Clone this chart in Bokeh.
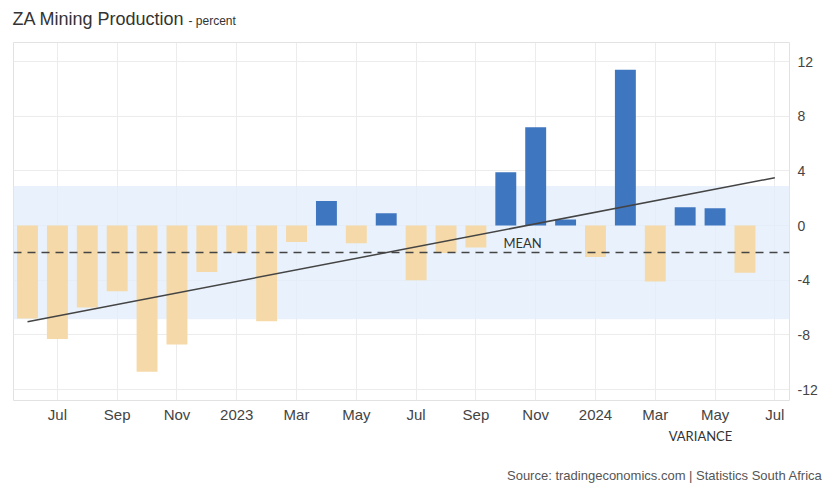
import numpy as np
from bokeh.plotting import figure
from bokeh.layouts import column
from bokeh.models import FixedTicker, BoxAnnotation, Span, Label, ColumnDataSource
from bokeh.core.properties import value
from bokeh.embed import file_html
from bokeh.resources import INLINE

# ---- data ----
months = ["2022-06", "2022-07", "2022-08", "2022-09", "2022-10", "2022-11", "2022-12",
          "2023-01", "2023-02", "2023-03", "2023-04", "2023-05", "2023-06", "2023-07",
          "2023-08", "2023-09", "2023-10", "2023-11", "2023-12", "2024-01", "2024-02",
          "2024-03", "2024-04", "2024-05", "2024-06"]
values = [-6.8, -8.3, -6.0, -4.8, -10.7, -8.7, -3.4, -2.0, -7.0, -1.2, 1.8, -1.3, 0.9,
          -4.0, -2.0, -1.6, 3.9, 7.2, 0.44, -2.3, 11.4, -4.1, 1.35, 1.27, -3.45]
tick_idx = [1, 3, 5, 7, 9, 11, 13, 15, 17, 19, 21, 23, 25]
tick_labels = ["Jul", "Sep", "Nov", "2023", "Mar", "May", "Jul", "Sep", "Nov", "2024",
               "Mar", "May", "Jul"]
y_ticks = [-12, -8, -4, 0, 4, 8, 12]
y_tick_labels = ["-12", "-8", "-4", "0", "4", "8", "12"]

POS = "#3f76c0"
NEG = "#f5d9a8"

idx = list(range(len(values)))
colors = [POS if v >= 0 else NEG for v in values]
src = ColumnDataSource(dict(x=idx, top=values, color=colors, month=months))

mean = float(np.mean(values))
std = float(np.std(values))
slope, intercept = np.polyfit(idx, values, 1)
trend_x = [0, len(values)]
trend_y = [intercept + slope * t for t in trend_x]

FONT = "Liberation Sans"
W = 827


def strip(h):
    f = figure(width=W, height=h, output_backend="svg", toolbar_location=None,
               x_range=(0, W), y_range=(h, 0), min_border=0,
               x_axis_type=None, y_axis_type=None)
    f.outline_line_color = None
    f.grid.visible = False
    if "frame_align" in f.properties():
        f.frame_align = False
    return f


# ---- header strip (title) ----
ft = strip(42)
ft.text(x=[12], y=[18], text=["ZA Mining Production"], text_font=value(FONT),
        text_font_size="18px", text_color="#333333", text_baseline="middle")
ft.text(x=[188], y=[20], text=["- percent"], text_font=value(FONT),
        text_font_size="12px", text_color="#333333", text_baseline="middle")

# ---- main chart ----
p = figure(width=W, height=384, output_backend="svg", toolbar_location=None,
           x_range=(-0.468, 25.49), y_range=(-12.8, 13.4), y_axis_location="right",
           min_border_left=13, min_border_right=38, min_border_top=0, min_border_bottom=26)
p.outline_line_color = "#e2e2e2"
p.background_fill_color = "white"
if "frame_align" in p.properties():
    p.frame_align = False

band = BoxAnnotation(bottom=mean - std, top=mean + std, fill_color="#e3effb",
                     fill_alpha=0.8, line_color=None, level="underlay")
p.add_layout(band)

p.vbar(x="x", top="top", width=0.7, fill_color="color", line_color=None, source=src)

p.add_layout(Span(location=mean, dimension="width", line_color="#444444",
                  line_width=1.5, line_dash="8 6"))
p.line(trend_x, trend_y, line_color="#444444", line_width=1.5)

p.xaxis.ticker = FixedTicker(ticks=tick_idx)
p.xaxis.major_label_overrides = {t: l for t, l in zip(tick_idx, tick_labels)}
p.yaxis.ticker = FixedTicker(ticks=y_ticks)
p.yaxis.major_label_overrides = {t: l for t, l in zip(y_ticks, y_tick_labels)}
for ax in (p.xaxis, p.yaxis):
    ax.axis_line_color = None
    ax.major_tick_line_color = None
    ax.minor_tick_line_color = None
    ax.major_tick_out = 0
    ax.major_tick_in = 0
    ax.major_label_text_font = FONT
    ax.major_label_text_color = "#444444"
p.xaxis.major_label_text_font_size = "15px"
p.yaxis.major_label_text_font_size = "14px"
p.xaxis.major_label_standoff = 5
p.yaxis.major_label_standoff = 8

p.xgrid.grid_line_color = "#ececec"
p.ygrid.grid_line_color = "#ececec"

p.add_layout(Label(x=16.56, y=mean, y_offset=10, text="MEAN", text_font="Lato",
                   text_font_size="13px", text_color="#333333",
                   text_align="center", text_baseline="middle"))

# ---- footer strip ----
FH = 483 - 42 - 384
fb = strip(FH)
fb.text(x=[700], y=[9], text=["VARIANCE"], text_font=value("Lato"),
        text_font_size="13px", text_color="#333333", text_align="center",
        text_baseline="middle")
fb.text(x=[822], y=[49], text=["Source: tradingeconomics.com | Statistics South Africa"],
        text_font=value(FONT), text_font_size="13px", text_color="#555555",
        text_align="right", text_baseline="middle")

layout = column(ft, p, fb, spacing=0)
open("out.html", "w").write(file_html(layout, INLINE))
